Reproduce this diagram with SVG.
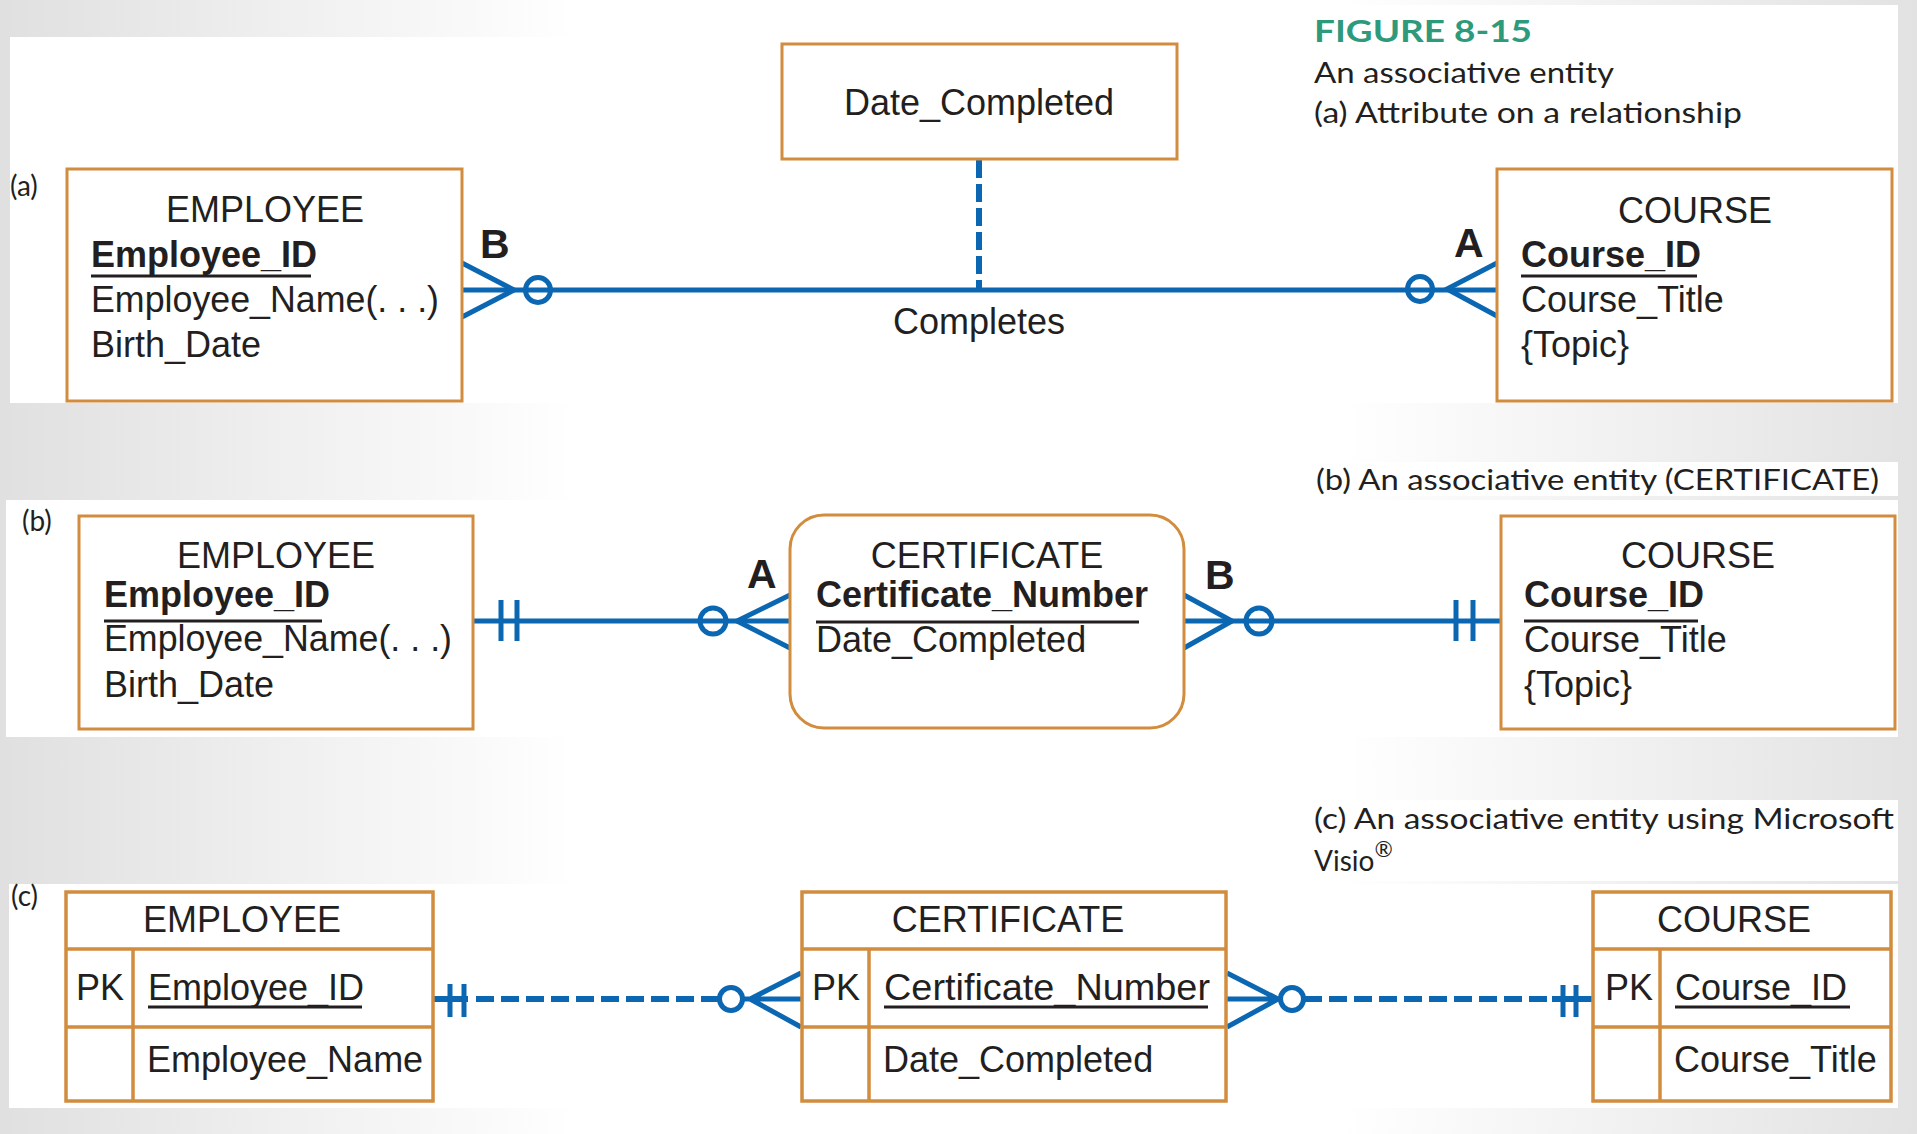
<svg xmlns="http://www.w3.org/2000/svg" width="1917" height="1134" viewBox="0 0 1917 1134">
<defs>
<linearGradient id="bg" x1="0" y1="0" x2="1" y2="0">
<stop offset="0" stop-color="#e0e0e0"/>
<stop offset="0.3" stop-color="#ffffff"/>
<stop offset="0.7" stop-color="#ffffff"/>
<stop offset="1" stop-color="#e2e2e2"/>
</linearGradient>
<style>
.panel{fill:#ffffff}
.box{fill:#ffffff;stroke:#d28c3e;stroke-width:3}
.tb{fill:none;stroke:#d28c3e;stroke-width:3.5}
.t{font-family:"Liberation Sans",Arial,sans-serif;font-size:36px;fill:#231f20}
.bd{font-weight:bold}
.mid{text-anchor:middle}
.lab{font-family:"Liberation Sans",Arial,sans-serif;font-weight:bold;font-size:41px;fill:#231f20}
.cap{font-family:Lato,"Liberation Sans",sans-serif;font-size:28px;fill:#231f20}
.ul{stroke:#231f20;stroke-width:3}
.ln{stroke:#0b67b2;stroke-width:5;fill:none}
.ln6{stroke:#0b67b2;stroke-width:6;fill:none}
.dsh{stroke-dasharray:18 7}
</style>
</defs>
<rect width="1917" height="1134" fill="url(#bg)"/>
<rect class="panel" x="1290" y="5" width="608" height="33"/>
<rect class="panel" x="10" y="37" width="1888" height="366"/>
<rect class="panel" x="1300" y="462" width="598" height="34"/>
<rect class="panel" x="6" y="500" width="1892" height="237"/>
<rect class="panel" x="1300" y="800" width="598" height="81"/>
<rect class="panel" x="9" y="884" width="1889" height="224"/>

<g id="captions">
<text x="1314" y="42" font-family="Lato,'Liberation Sans',sans-serif" font-weight="bold" font-size="31" fill="#2e9a7c" textLength="218" lengthAdjust="spacingAndGlyphs">FIGURE 8-15</text>
<text class="cap" x="1314" y="83" textLength="300" lengthAdjust="spacingAndGlyphs">An associative entity</text>
<text class="cap" x="1314" y="123" textLength="428" lengthAdjust="spacingAndGlyphs">(a) Attribute on a relationship</text>
<text class="cap" x="1316" y="490" textLength="563" lengthAdjust="spacingAndGlyphs">(b) An associative entity (CERTIFICATE)</text>
<text class="cap" x="1314" y="829" textLength="580" lengthAdjust="spacingAndGlyphs">(c) An associative entity using Microsoft</text>
<text class="cap" x="1314" y="871">Visio<tspan font-size="22" dy="-14">®</tspan></text>
<text class="cap" x="10" y="196" font-size="30">(a)</text>
<text class="cap" x="22" y="531" font-size="30">(b)</text>
<text class="cap" x="11" y="906" font-size="30">(c)</text>
</g>

<g id="connectors">
<path class="ln" d="M462 290H1497"/>
<path class="ln" d="M462 263L514 290L462 317"/>
<circle class="ln" cx="538" cy="290" r="12.5"/>
<path class="ln" d="M1497 263L1447 289L1497 316"/>
<circle class="ln" cx="1420" cy="289" r="12.5"/>
<path class="ln6" d="M979 160V288" stroke-dasharray="18 6"/>
<path class="ln" d="M473 621H790"/>
<path class="ln" d="M501 600V641M517 600V641"/>
<circle class="ln" cx="713" cy="621" r="13"/>
<path class="ln" d="M790 595L737 621L790 648"/>
<path class="ln" d="M1184 595L1232 621L1184 648"/>
<path class="ln" d="M1184 621H1501"/>
<circle class="ln" cx="1259" cy="621" r="13"/>
<path class="ln" d="M1456 600V641M1473 600V641"/>
<path class="ln6" d="M433 999H468"/>
<path class="ln" d="M450 984V1017M464 984V1017"/>
<path class="ln6 dsh" d="M476 999H719"/>
<circle class="ln" cx="731" cy="999" r="11.5"/>
<path class="ln" d="M801 973L750 999L801 1027M743 999H801"/>
<path class="ln" d="M1227 973L1278 999L1227 1027M1227 999H1281"/>
<circle class="ln" cx="1292" cy="999" r="11.5"/>
<path class="ln6 dsh" d="M1304 999H1552"/>
<path class="ln6" d="M1552 999H1593"/>
<path class="ln" d="M1563 985V1017M1576 985V1017"/>
<text class="lab" x="480" y="258">B</text>
<text class="lab" x="1454" y="257">A</text>
<text class="t mid" x="979" y="334">Completes</text>
<text class="lab" x="747" y="588">A</text>
<text class="lab" x="1205" y="589">B</text>
</g>

<g id="a-date-completed">
<rect class="box" x="782" y="44" width="395" height="115"/>
<text class="t mid" x="979" y="115">Date_Completed</text>
</g>
<g id="a-employee">
<rect class="box" x="67" y="169" width="395" height="232"/>
<text class="t mid" x="265" y="222">EMPLOYEE</text>
<text class="t bd" x="91" y="267">Employee_ID</text>
<path class="ul" d="M91 276H311"/>
<text class="t" x="91" y="312" textLength="348" lengthAdjust="spacingAndGlyphs">Employee_Name(. . .)</text>
<text class="t" x="91" y="357">Birth_Date</text>
</g>
<g id="a-course">
<rect class="box" x="1497" y="169" width="395" height="232"/>
<text class="t mid" x="1695" y="223">COURSE</text>
<text class="t bd" x="1521" y="267">Course_ID</text>
<path class="ul" d="M1521 276H1697"/>
<text class="t" x="1521" y="312">Course_Title</text>
<text class="t" x="1521" y="357">{Topic}</text>
</g>

<g id="b-employee">
<rect class="box" x="79" y="516" width="394" height="213"/>
<text class="t mid" x="276" y="568">EMPLOYEE</text>
<text class="t bd" x="104" y="607">Employee_ID</text>
<path class="ul" d="M104 621H322"/>
<text class="t" x="104" y="651" textLength="348" lengthAdjust="spacingAndGlyphs">Employee_Name(. . .)</text>
<text class="t" x="104" y="697">Birth_Date</text>
</g>
<g id="b-certificate">
<rect class="box" x="790" y="515" width="394" height="213" rx="34"/>
<text class="t mid" x="987" y="568">CERTIFICATE</text>
<text class="t bd" x="816" y="607">Certificate_Number</text>
<path class="ul" d="M816 622H1139"/>
<text class="t" x="816" y="652">Date_Completed</text>
</g>
<g id="b-course">
<rect class="box" x="1501" y="516" width="394" height="213"/>
<text class="t mid" x="1698" y="568">COURSE</text>
<text class="t bd" x="1524" y="607">Course_ID</text>
<path class="ul" d="M1524 621H1698"/>
<text class="t" x="1524" y="652">Course_Title</text>
<text class="t" x="1524" y="697">{Topic}</text>
</g>

<g id="c-employee">
<rect class="tb" x="66" y="892" width="367" height="209" fill="#fff"/>
<path class="tb" d="M66 949H433M66 1027H433M133 949V1101"/>
<text class="t mid" x="242" y="932">EMPLOYEE</text>
<text class="t" x="76" y="1000">PK</text>
<text class="t" x="148" y="1000">Employee_ID</text>
<path class="ul" d="M148 1007H362"/>
<text class="t" x="147" y="1072">Employee_Name</text>
</g>
<g id="c-certificate">
<rect class="tb" x="802" y="892" width="424" height="209" fill="#fff"/>
<path class="tb" d="M802 949H1226M802 1027H1226M869 949V1101"/>
<text class="t mid" x="1008" y="932">CERTIFICATE</text>
<text class="t" x="812" y="1000">PK</text>
<text class="t" x="884" y="1000" textLength="326" lengthAdjust="spacingAndGlyphs">Certificate_Number</text>
<path class="ul" d="M884 1007H1208"/>
<text class="t" x="883" y="1072">Date_Completed</text>
</g>
<g id="c-course">
<rect class="tb" x="1593" y="892" width="298" height="209" fill="#fff"/>
<path class="tb" d="M1593 949H1891M1593 1027H1891M1660 949V1101"/>
<text class="t mid" x="1734" y="932">COURSE</text>
<text class="t" x="1605" y="1000">PK</text>
<text class="t" x="1675" y="1000">Course_ID</text>
<path class="ul" d="M1675 1007H1850"/>
<text class="t" x="1674" y="1072">Course_Title</text>
</g>
</svg>
